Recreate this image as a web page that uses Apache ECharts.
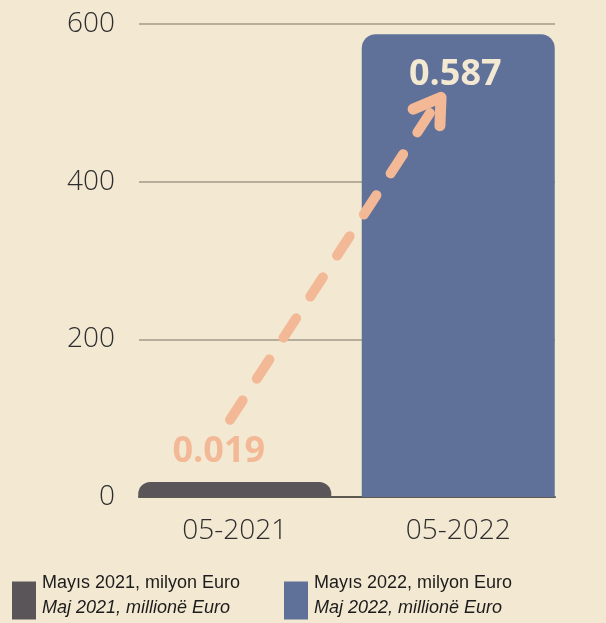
<!DOCTYPE html>
<html>
<head>
<meta charset="utf-8">
<script src="https://cdn.jsdelivr.net/npm/echarts@6/dist/echarts.min.js"></script>
<style>
  html, body { margin: 0; padding: 0; background: #f3e8d2; }
  #main { width: 606px; height: 623px; }
</style>
</head>
<body>
<div id="main"></div>
<script>
// values in million Euro
const categories = ['05-2021', '05-2022'];
const may2021 = [19, '-'];
const may2022 = ['-', 587];
const yTicks = [0, 200, 400, 600];
const legendNames = ['Mayıs 2021, milyon Euro', 'Mayıs 2022, milyon Euro'];
const legendNamesAlt = ['Maj 2021, millionë Euro', 'Maj 2022, millionë Euro'];
// growth arrow, on a 0..2 helper axis across the bars
const arrowShaft = [[0.479, 98], [1.41, 503]];
const arrowHead = [[1.298, 492], [1.423, 507], [1.418, 471]];

const chart = echarts.init(document.getElementById('main'));

const gridTop = 24, gridBottom = 126;
const labelFont = '"Open Sans", sans-serif';
const legendRich = {
  a: { fontFamily: '"Liberation Sans Narrow", "Liberation Sans", sans-serif', fontSize: 18, color: '#1c1c1c', lineHeight: 25 },
  b: { fontFamily: '"Liberation Sans Narrow", "Liberation Sans", sans-serif', fontSize: 18, fontStyle: 'italic', color: '#1c1c1c', lineHeight: 25 }
};
function legendFmt(name) {
  const i = legendNames.indexOf(name);
  return '{a|' + name + '}\n{b|' + legendNamesAlt[i] + '}';
}
function legendAt(i, left) {
  return {
    data: [legendNames[i]], left: left, top: 574, padding: 0, icon: 'rect',
    itemWidth: 24, itemHeight: 38, itemGap: 0,
    formatter: legendFmt, textStyle: { rich: legendRich, padding: [0, 0, 10, 1] }
  };
}

const option = {
  backgroundColor: '#f3e8d2',
  animation: false,
  legend: [legendAt(0, 12), legendAt(1, 284)],
  grid: [
    { left: 139, right: 51, top: gridTop, bottom: gridBottom },
    { left: 123, right: 36, top: gridTop, bottom: gridBottom }
  ],
  xAxis: [
    {
      gridIndex: 0, type: 'category', data: categories,
      axisLine: { show: true, lineStyle: { color: '#5d5850', width: 2 } },
      axisTick: { show: false }, axisLabel: { show: false }
    },
    {
      gridIndex: 1, type: 'category', data: categories,
      axisLine: { show: false }, axisTick: { show: false },
      axisLabel: { margin: 20, fontFamily: labelFont, fontWeight: 300, fontSize: 28, color: '#2e2e2e' }
    },
    {
      gridIndex: 1, type: 'value', min: 0, max: 2, show: false
    }
  ],
  yAxis: [
    {
      gridIndex: 0, type: 'value', min: yTicks[0], max: yTicks[yTicks.length - 1], interval: 200,
      axisLine: { show: false }, axisTick: { show: false },
      splitLine: { lineStyle: { color: '#b6ad9b', width: 2 } },
      axisLabel: { margin: 24, fontFamily: labelFont, fontWeight: 300, fontSize: 28, color: '#2e2e2e' }
    },
    {
      gridIndex: 1, type: 'value', min: 0, max: 600, show: false
    }
  ],
  series: [
    {
      name: legendNames[0], type: 'bar', xAxisIndex: 1, yAxisIndex: 1,
      data: may2021, barWidth: 193, barGap: '-100%',
      itemStyle: { color: '#5a5558', borderRadius: [12, 12, 0, 0] },
      label: {
        show: true, position: 'top', distance: 12, offset: [-16, 0],
        formatter: p => (p.value / 1000).toFixed(3),
        fontFamily: labelFont, fontWeight: 'bold', fontSize: 36, color: '#f3b996'
      }
    },
    {
      name: legendNames[1], type: 'bar', xAxisIndex: 1, yAxisIndex: 1,
      data: may2022, barWidth: 193, barGap: '-100%',
      itemStyle: { color: '#5f7099', borderRadius: [14, 14, 0, 0] },
      label: {
        show: true, position: 'insideTop', distance: 23, offset: [-3, 0],
        formatter: p => (p.value / 1000).toFixed(3),
        fontFamily: labelFont, fontWeight: 'bold', fontSize: 36, color: '#f3e8d2'
      }
    },
    {
      type: 'line', xAxisIndex: 2, yAxisIndex: 1, data: arrowShaft,
      symbol: 'none', silent: true,
      lineStyle: { color: '#f3b996', width: 10, type: [23, 26], cap: 'round' }
    },
    {
      type: 'line', xAxisIndex: 2, yAxisIndex: 1, data: arrowHead,
      symbol: 'none', silent: true,
      lineStyle: { color: '#f3b996', width: 11, cap: 'round', join: 'round' }
    }
  ]
};
chart.setOption(option);
</script>
</body>
</html>
